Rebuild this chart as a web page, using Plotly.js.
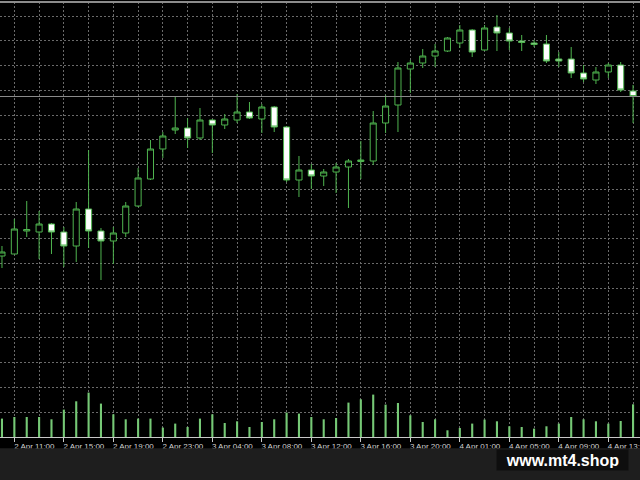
<!DOCTYPE html>
<html>
<head>
<meta charset="utf-8">
<script src="https://cdn.plot.ly/plotly-3.0.1.min.js"></script>
<style>
html,body{margin:0;padding:0;background:#1e1e1e;overflow:hidden;}
#chart{width:640px;height:480px;}
</style>
</head>
<body>
<div id="chart"></div>
<script>
// Hourly bars (market gap at 00:00)
const times = [
  "2 Apr 10:00","2 Apr 11:00","2 Apr 12:00","2 Apr 13:00","2 Apr 14:00","2 Apr 15:00","2 Apr 16:00","2 Apr 17:00",
  "2 Apr 18:00","2 Apr 19:00","2 Apr 20:00","2 Apr 21:00","2 Apr 22:00","2 Apr 23:00",
  "3 Apr 01:00","3 Apr 02:00","3 Apr 03:00","3 Apr 04:00","3 Apr 05:00","3 Apr 06:00","3 Apr 07:00","3 Apr 08:00",
  "3 Apr 09:00","3 Apr 10:00","3 Apr 11:00","3 Apr 12:00","3 Apr 13:00","3 Apr 14:00","3 Apr 15:00","3 Apr 16:00",
  "3 Apr 17:00","3 Apr 18:00","3 Apr 19:00","3 Apr 20:00","3 Apr 21:00","3 Apr 22:00","3 Apr 23:00",
  "4 Apr 01:00","4 Apr 02:00","4 Apr 03:00","4 Apr 04:00","4 Apr 05:00","4 Apr 06:00","4 Apr 07:00","4 Apr 08:00",
  "4 Apr 09:00","4 Apr 10:00","4 Apr 11:00","4 Apr 12:00","4 Apr 13:00","4 Apr 14:00","4 Apr 15:00"
];
// Prices in points (relative)
const openP = [44,46,69,68,76,68,54,91,69,59,67,94,121,151,170,172,162,180,175,180,188,181,193,173,120,130,124,128,133,138.5,139,177,195,231,237,244,249,257,270,250,273,267,259,257,256,241,241,227,220,228,235,209];
const highP = [54,81,99,89,77,73,98,150,72,73,98,132,160,168,204,182,192,181,186,206,198,196,194,174,144,136,131,137,141,159,189,205,238,240,251,256,263,275,271,275,285,272,265,260,265,248,253,235,233,237,238,215];
const lowP  = [32,46,63,41,46,33,38,52,20,36,63,93,120,142,166,152,160,147,171,177,181,167,168,118,103,111,114,107,92,121,135,167,168,207,232,233,248,252,243,249,249,250,249,253,237,233,222,218,216,222,208,177];
const closeP= [48,71,70.5,76,68,54,91,69,59,67,94,122,151,164,172,162,180,175,181,188,182,193,173,120,130,124,128,133,139,140,177,194,232,237,244,249,262,270,248,272,267,259,257.5,255.5,239,239,227,221,228,235,210,203.5];
// Tick volumes
const volumes = [184,200,200,200,177,274,357,444,334,227,177,184,184,94,134,100,184,227,140,157,100,150,177,244,234,200,177,190,344,377,424,324,340,217,150,177,67,90,134,174,157,107,100,84,107,134,200,177,157,134,160,327];

const idx = times.map((t, i) => i);
const labelIdx = idx.filter(i => (i - 1) % 4 === 0 && i >= 1);
const gridIdx = idx.filter(i => i % 2 === 1);

const candleGreen = '#4fb44f';
const traces = [
  {
    type: 'bar', x: idx, y: volumes, yaxis: 'y2', width: 0.17,
    marker: {color: '#76c976', line: {width: 0}}, hoverinfo: 'skip'
  },
  {
    type: 'candlestick', x: idx, open: openP, high: highP, low: lowP, close: closeP,
    whiskerwidth: 0,
    increasing: {line: {color: candleGreen, width: 1}, fillcolor: '#000000'},
    decreasing: {line: {color: candleGreen, width: 1}, fillcolor: '#ffffff'},
    hoverinfo: 'skip'
  }
];

const lastClose = closeP[closeP.length - 1];
const layout = {
  width: 640, height: 480,
  margin: {l: 0, r: 0, t: 2, b: 43, pad: 0},
  paper_bgcolor: '#000000', plot_bgcolor: '#000000',
  showlegend: false,
  boxgap: 0.3,
  xaxis: {
    type: 'linear', range: [-0.16, 51.56], fixedrange: true,
    rangeslider: {visible: false},
    tickmode: 'array', tickvals: labelIdx, ticktext: labelIdx.map(i => times[i]),
    ticks: 'outside', ticklen: 4, tickwidth: 1, tickcolor: '#c8c8c8',
    ticklabelshift: 20, ticklabelstandoff: -3, ticklabeloverflow: 'allow',
    tickfont: {family: 'Liberation Sans, Arial, sans-serif', size: 8, color: '#d2d2d2'},
    showgrid: true, gridcolor: '#6a6a6a', gridwidth: 1, griddash: '2px,2px',
    minor: {tickmode: 'array', tickvals: gridIdx, showgrid: true, gridcolor: '#6a6a6a', gridwidth: 1, griddash: '2px,2px', ticks: ''},
    showline: true, linecolor: '#c8c8c8', linewidth: 1,
    zeroline: false
  },
  yaxis: {
    range: [-137, 298], fixedrange: true,
    tickmode: 'linear', tick0: 284, dtick: 24.75,
    showticklabels: false, ticks: '',
    showgrid: true, gridcolor: '#6a6a6a', gridwidth: 1, griddash: '2px,2px',
    zeroline: false, showline: false
  },
  yaxis2: {
    overlaying: 'y', range: [0, 4350], visible: false, fixedrange: true
  },
  shapes: [
    {type: 'line', xref: 'paper', yref: 'y', x0: 0, x1: 1, y0: lastClose, y1: lastClose,
     line: {color: '#8a8a8a', width: 1}},
    {type: 'line', xref: 'paper', yref: 'paper', x0: 0, x1: 1, y0: 1, y1: 1,
     line: {color: '#8c8c8c', width: 2}},
    {type: 'rect', xref: 'paper', yref: 'paper', x0: 0, x1: 1, y0: -0.026, y1: -0.12,
     fillcolor: '#1e1e1e', line: {width: 0}, layer: 'above'}
  ],
  annotations: [
    {xref: 'paper', yref: 'paper', x: 562.5 / 640, y: -0.054, xanchor: 'center', yanchor: 'middle',
     text: '<b>www.mt4.shop</b>', showarrow: false,
     font: {family: 'Liberation Sans, Arial, sans-serif', size: 16, color: '#ffffff'},
     bgcolor: '#0e0e0e', width: 127, height: 16, borderpad: 2}
  ]
};

Plotly.newPlot('chart', traces, layout, {staticPlot: true, displayModeBar: false});
</script>
</body>
</html>
